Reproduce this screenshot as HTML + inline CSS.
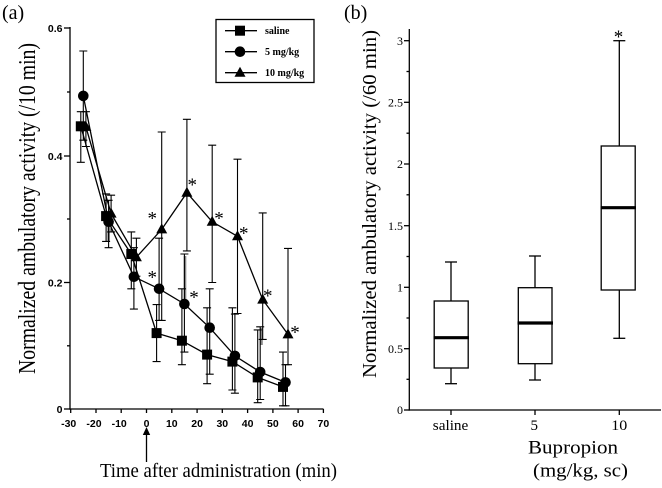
<!DOCTYPE html>
<html><head><meta charset="utf-8"><style>
html,body{margin:0;padding:0;background:#fff;}
svg{display:block;}
</style></head><body>
<svg width="662" height="488" viewBox="0 0 662 488" xmlns="http://www.w3.org/2000/svg">
<rect width="662" height="488" fill="#fff"/>
<!-- panel labels -->
<text x="2" y="19" font-family="Liberation Serif, serif" font-size="20">(a)</text>
<text x="344" y="19" font-family="Liberation Serif, serif" font-size="20">(b)</text>

<!-- ============ PANEL A ============ -->
<g stroke="#000" stroke-width="1.3" fill="none">
  <line x1="70" y1="27" x2="70" y2="409.6"/>
  <line x1="69.4" y1="409" x2="323.5" y2="409"/>
  <!-- y ticks -->
  <line x1="64" y1="28" x2="70" y2="28"/>
  <line x1="64" y1="156" x2="70" y2="156"/>
  <line x1="64" y1="282.5" x2="70" y2="282.5"/>
  <line x1="64" y1="409" x2="70" y2="409"/>
  <line x1="67" y1="92" x2="70" y2="92"/>
  <line x1="67" y1="219" x2="70" y2="219"/>
  <line x1="67" y1="345.8" x2="70" y2="345.8"/>
  <!-- x ticks -->
  <line x1="70.7" y1="409" x2="70.7" y2="413"/>
  <line x1="96" y1="409" x2="96" y2="413"/>
  <line x1="121.2" y1="409" x2="121.2" y2="413"/>
  <line x1="146.5" y1="409" x2="146.5" y2="413"/>
  <line x1="171.8" y1="409" x2="171.8" y2="413"/>
  <line x1="197.1" y1="409" x2="197.1" y2="413"/>
  <line x1="222.3" y1="409" x2="222.3" y2="413"/>
  <line x1="247.6" y1="409" x2="247.6" y2="413"/>
  <line x1="272.9" y1="409" x2="272.9" y2="413"/>
  <line x1="298.1" y1="409" x2="298.1" y2="413"/>
  <line x1="323.4" y1="409" x2="323.4" y2="413"/>
</g>
<g font-family="Liberation Sans, sans-serif" font-weight="bold" font-size="10.5" fill="#000" text-anchor="end">
  <text x="62.5" y="32">0.6</text>
  <text x="62.5" y="160">0.4</text>
  <text x="62.5" y="286.5">0.2</text>
  <text x="62.5" y="413">0</text>
</g>
<g font-family="Liberation Sans, sans-serif" font-weight="bold" font-size="10.5" fill="#000" text-anchor="middle">
  <text x="68.7" y="427">-30</text>
  <text x="94" y="427">-20</text>
  <text x="119.2" y="427">-10</text>
  <text x="146.5" y="427">0</text>
  <text x="171.8" y="427">10</text>
  <text x="197.1" y="427">20</text>
  <text x="222.3" y="427">30</text>
  <text x="247.6" y="427">40</text>
  <text x="272.9" y="427">50</text>
  <text x="298.1" y="427">60</text>
  <text x="323.4" y="427">70</text>
</g>
<!-- arrow -->
<polygon points="146.5,427 142.8,435 150.2,435" fill="#000"/>
<line x1="146.5" y1="434" x2="146.5" y2="462" stroke="#000" stroke-width="1.3"/>
<text x="100" y="477" font-family="Liberation Serif, serif" font-size="20" textLength="237" lengthAdjust="spacingAndGlyphs">Time after administration (min)</text>
<text transform="translate(35,374) rotate(-90)" font-family="Liberation Serif, serif" font-size="24" textLength="331" lengthAdjust="spacingAndGlyphs">Normalized ambulatory activity (/10 min)</text>

<!-- gray thick bars -->
<g stroke="#888" stroke-width="2.6">
  <line x1="108.6" y1="226" x2="108.6" y2="242"/>
  <line x1="185" y1="256" x2="185" y2="300"/>
  <line x1="261.5" y1="328" x2="261.5" y2="345"/>
</g>

<!-- error bars -->
<g stroke="#000" stroke-width="1.1" fill="none">
  <!-- saline -->
  <path d="M80.8,111.7V162.3M76.8,111.7h8M76.8,162.3h8"/>
  <path d="M106.1,193.9V241.4M102.1,193.9h8M102.1,241.4h8"/>
  <path d="M131.3,231.9V288.8M127.3,231.9h8M127.3,288.8h8"/>
  <path d="M156.6,304.6V361.6M152.6,304.6h8M152.6,361.6h8"/>
  <path d="M181.9,288.8V364.7M177.9,288.8h8M177.9,364.7h8"/>
  <path d="M207.1,307.8V383.7M203.1,307.8h8M203.1,383.7h8"/>
  <path d="M232.4,307.8V390M228.4,307.8h8M228.4,390h8"/>
  <path d="M257.7,329.9V402.7M253.7,329.9h8M253.7,402.7h8"/>
  <path d="M283,352.1V405.8M279,352.1h8M279,405.8h8"/>
  <!-- 5 mg -->
  <path d="M83.3,51V140.2M79.3,51h8M79.3,140.2h8"/>
  <path d="M108.6,200.3V247.7M104.6,200.3h8M104.6,247.7h8"/>
  <path d="M133.9,247.7V309.1M129.9,247.7h8M129.9,309.1h8"/>
  <path d="M159.1,238.2V320.4M155.1,238.2h8M155.1,320.4h8"/>
  <path d="M184.4,254V352.1M180.4,254h8M180.4,352.1h8"/>
  <path d="M209.7,288.8V374.2M205.7,288.8h8M205.7,374.2h8"/>
  <path d="M234.9,314.1V393.2M230.9,314.1h8M230.9,393.2h8"/>
  <path d="M260.2,326.8V399.5M256.2,326.8h8M256.2,399.5h8"/>
  <path d="M285.5,364.7V405.8M281.5,364.7h8M281.5,405.8h8"/>
  <!-- 10 mg -->
  <path d="M85.9,111.7V146.5M81.9,111.7h8M81.9,146.5h8"/>
  <path d="M111.1,195.2V231.9M107.1,195.2h8M107.1,231.9h8"/>
  <path d="M136.4,238.2V276.2M132.4,238.2h8M132.4,276.2h8"/>
  <path d="M161.7,132V320.4M157.7,132h8M157.7,320.4h8"/>
  <path d="M186.9,119.3V250.9M182.9,119.3h8M182.9,250.9h8"/>
  <path d="M212.2,145.2V282.5M208.2,145.2h8M208.2,282.5h8"/>
  <path d="M237.5,159.2V313.5M233.5,159.2h8M233.5,313.5h8"/>
  <path d="M262.7,212.9V339.4M258.7,212.9h8M258.7,339.4h8"/>
  <path d="M288,248.4V364.7M284,248.4h8M284,364.7h8"/>
</g>

<!-- lines -->
<g stroke="#000" stroke-width="1.3" fill="none">
  <polyline points="80.8,126.3 106.1,216.1 131.3,254 156.6,333.1 181.9,340.7 207.1,354.6 232.4,361.6 257.7,377.4 283,386.9"/>
  <polyline points="83.3,95.9 108.6,221.8 133.9,276.8 159.1,288.8 184.4,304 209.7,327.7 234.9,355.9 260.2,372 285.5,382.4"/>
  <polyline points="85.9,126.9 111.1,213.6 136.4,257.2 161.7,229.4 186.9,192.7 212.2,221.8 237.5,236.3 262.7,299.6 288,334.4"/>
</g>

<!-- markers -->
<g fill="#000">
  <!-- squares -->
  <rect x="75.8" y="121.3" width="10" height="10"/>
  <rect x="101.1" y="211.1" width="10" height="10"/>
  <rect x="126.3" y="249" width="10" height="10"/>
  <rect x="151.6" y="328.1" width="10" height="10"/>
  <rect x="176.9" y="335.7" width="10" height="10"/>
  <rect x="202.1" y="349.6" width="10" height="10"/>
  <rect x="227.4" y="356.6" width="10" height="10"/>
  <rect x="252.7" y="372.4" width="10" height="10"/>
  <rect x="278" y="381.9" width="10" height="10"/>
  <!-- circles -->
  <circle cx="83.3" cy="95.9" r="5.3"/>
  <circle cx="108.6" cy="221.8" r="5.3"/>
  <circle cx="133.9" cy="276.8" r="5.3"/>
  <circle cx="159.1" cy="288.8" r="5.3"/>
  <circle cx="184.4" cy="304" r="5.3"/>
  <circle cx="209.7" cy="327.7" r="5.3"/>
  <circle cx="234.9" cy="355.9" r="5.3"/>
  <circle cx="260.2" cy="372" r="5.3"/>
  <circle cx="285.5" cy="382.4" r="5.3"/>
  <!-- triangles -->
  <polygon points="85.9,120.9 80.4,130.9 91.4,130.9"/>
  <polygon points="111.1,207.6 105.6,217.6 116.6,217.6"/>
  <polygon points="136.4,251.2 130.9,261.2 141.9,261.2"/>
  <polygon points="161.7,223.4 156.2,233.4 167.2,233.4"/>
  <polygon points="186.9,186.7 181.4,196.7 192.4,196.7"/>
  <polygon points="212.2,215.8 206.7,225.8 217.7,225.8"/>
  <polygon points="237.5,230.3 232,240.3 243,240.3"/>
  <polygon points="262.7,293.6 257.2,303.6 268.2,303.6"/>
  <polygon points="288,328.4 282.5,338.4 293.5,338.4"/>
</g>

<!-- stars -->
<g font-family="Liberation Serif, serif" font-size="19" fill="#000" text-anchor="middle">
  <text x="152.3" y="224.5">*</text>
  <text x="192.3" y="191">*</text>
  <text x="219" y="224.5">*</text>
  <text x="243.7" y="239.5">*</text>
  <text x="267.7" y="302">*</text>
  <text x="295" y="338.5">*</text>
  <text x="152.3" y="283.5">*</text>
  <text x="194" y="303.5">*</text>
</g>

<!-- legend -->
<rect x="216" y="19.5" width="98" height="63" fill="#fff" stroke="#000" stroke-width="1.3"/>
<g stroke="#000" stroke-width="1.3">
  <line x1="225" y1="30.7" x2="257" y2="30.7"/>
  <line x1="225" y1="51.7" x2="257" y2="51.7"/>
  <line x1="225" y1="72.7" x2="257" y2="72.7"/>
</g>
<rect x="235" y="25.7" width="10" height="10" fill="#000"/>
<circle cx="240" cy="51.7" r="5.3" fill="#000"/>
<polygon points="240,66.7 234.5,76.7 245.5,76.7" fill="#000"/>
<g font-family="Liberation Serif, serif" font-weight="bold" font-size="10" fill="#000">
  <text x="265" y="34.2">saline</text>
  <text x="265" y="55.2">5 mg/kg</text>
  <text x="265" y="76.2">10 mg/kg</text>
</g>

<!-- ============ PANEL B ============ -->
<g stroke="#000" stroke-width="1.3" fill="none">
  <line x1="409.3" y1="29" x2="409.3" y2="410.6"/>
  <line x1="408.7" y1="410" x2="661" y2="410"/>
  <!-- y major ticks -->
  <line x1="404" y1="40.7" x2="409.3" y2="40.7"/>
  <line x1="404" y1="102.3" x2="409.3" y2="102.3"/>
  <line x1="404" y1="164" x2="409.3" y2="164"/>
  <line x1="404" y1="225.7" x2="409.3" y2="225.7"/>
  <line x1="404" y1="287.3" x2="409.3" y2="287.3"/>
  <line x1="404" y1="348.7" x2="409.3" y2="348.7"/>
  <line x1="404" y1="410" x2="409.3" y2="410"/>
  <!-- minor -->
  <line x1="406.5" y1="71.5" x2="409.3" y2="71.5"/>
  <line x1="406.5" y1="133.2" x2="409.3" y2="133.2"/>
  <line x1="406.5" y1="194.8" x2="409.3" y2="194.8"/>
  <line x1="406.5" y1="256.5" x2="409.3" y2="256.5"/>
  <line x1="406.5" y1="318" x2="409.3" y2="318"/>
  <line x1="406.5" y1="379.3" x2="409.3" y2="379.3"/>
  <!-- x ticks -->
  <line x1="451" y1="410" x2="451" y2="415"/>
  <line x1="535" y1="410" x2="535" y2="415"/>
  <line x1="619.3" y1="410" x2="619.3" y2="415"/>
</g>
<g font-family="Liberation Serif, serif" font-size="12" fill="#000" text-anchor="end">
  <text x="403" y="45">3</text>
  <text x="403" y="106.5">2.5</text>
  <text x="403" y="168.2">2</text>
  <text x="403" y="229.9">1.5</text>
  <text x="403" y="291.5">1</text>
  <text x="403" y="352.9">0.5</text>
  <text x="403" y="414.2">0</text>
</g>
<g font-family="Liberation Serif, serif" font-size="15" fill="#000">
  <text x="432.8" y="430" textLength="35.5" lengthAdjust="spacingAndGlyphs">saline</text>
  <text x="530.5" y="430">5</text>
  <text x="611.3" y="430" textLength="16" lengthAdjust="spacingAndGlyphs">10</text>
</g>
<text x="528" y="453.3" font-family="Liberation Serif, serif" font-size="19" textLength="90" lengthAdjust="spacingAndGlyphs">Bupropion</text>
<text x="533" y="476.5" font-family="Liberation Serif, serif" font-size="19" textLength="95" lengthAdjust="spacingAndGlyphs">(mg/kg, sc)</text>
<text transform="translate(376,378) rotate(-90)" font-family="Liberation Serif, serif" font-size="20.5" textLength="348" lengthAdjust="spacingAndGlyphs">Normalized ambulatory activity (/60 min)</text>

<!-- boxes -->
<g stroke="#000" stroke-width="1.3" fill="none">
  <!-- saline -->
  <line x1="451" y1="262" x2="451" y2="301"/>
  <line x1="451" y1="368" x2="451" y2="383.7"/>
  <line x1="445" y1="262" x2="457" y2="262"/>
  <line x1="445" y1="383.7" x2="457" y2="383.7"/>
  <rect x="434.2" y="301" width="34" height="67"/>
  <!-- 5 -->
  <line x1="535" y1="256" x2="535" y2="287.7"/>
  <line x1="535" y1="363.7" x2="535" y2="380"/>
  <line x1="529" y1="256" x2="541" y2="256"/>
  <line x1="529" y1="380" x2="541" y2="380"/>
  <rect x="518.3" y="287.7" width="33.7" height="76"/>
  <!-- 10 -->
  <line x1="619.3" y1="40.7" x2="619.3" y2="146"/>
  <line x1="619.3" y1="290" x2="619.3" y2="338.3"/>
  <line x1="613.3" y1="40.7" x2="625.3" y2="40.7"/>
  <line x1="613.3" y1="338.3" x2="625.3" y2="338.3"/>
  <rect x="601.2" y="146" width="34" height="144"/>
</g>
<g stroke="#000" stroke-width="3.2">
  <line x1="433.5" y1="337.7" x2="469" y2="337.7"/>
  <line x1="517.5" y1="323" x2="553" y2="323"/>
  <line x1="600.5" y1="207.7" x2="636" y2="207.7"/>
</g>
<text x="618.5" y="43" font-family="Liberation Serif, serif" font-size="19" text-anchor="middle">*</text>
</svg>
</body></html>
